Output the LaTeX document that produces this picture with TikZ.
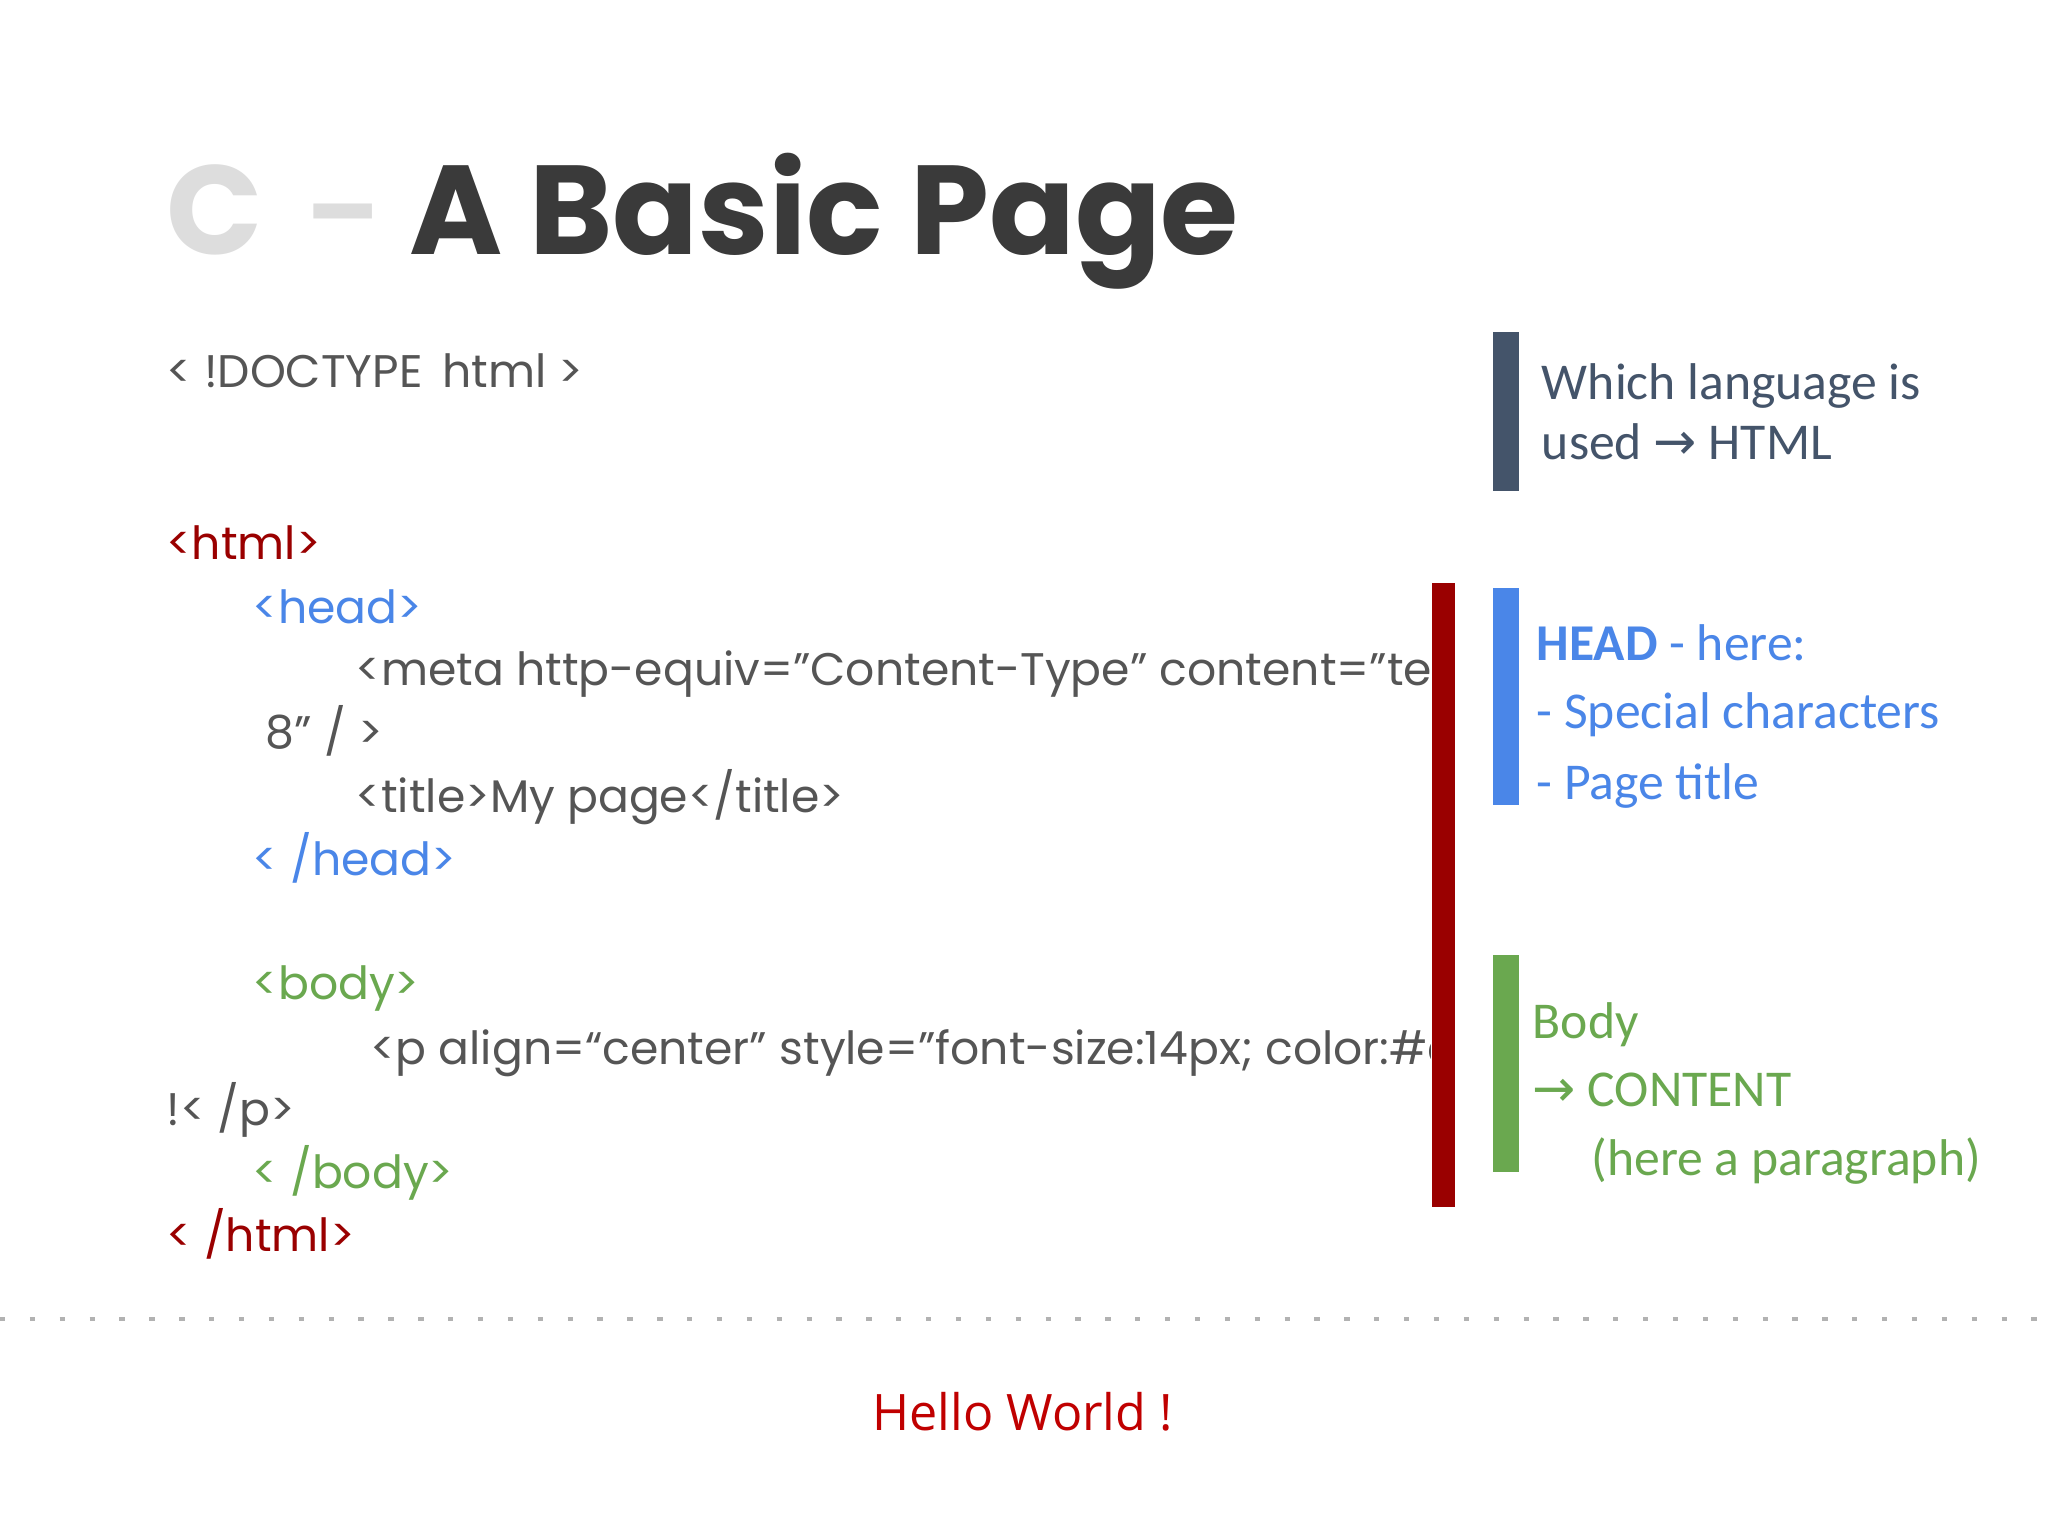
\documentclass[tikz,border=0pt]{standalone}
\usepackage{fontspec}
\setmainfont{Poppins}
\newfontfamily\sidefont{Carlito}
\newfontfamily\hellofont{Open Sans}
\newfontfamily\arrowfont{DejaVu Sans}
\definecolor{codegray}{HTML}{555555}
\definecolor{htmlred}{HTML}{9A0000}
\definecolor{headblue}{HTML}{4A86E8}
\definecolor{bodygreen}{HTML}{6AA84F}
\definecolor{slate}{HTML}{44546A}
\definecolor{titlegray}{HTML}{3A3A3A}
\definecolor{lightgray2}{HTML}{DDDDDD}
\definecolor{hellored}{HTML}{C00000}
\newcommand{\ar}{{\arrowfont\char"2192}}
\newcommand{\q}{{\char34}}
\begin{document}
\begin{tikzpicture}[x=0.01306cm,y=-0.01306cm,
    code/.style={anchor=base west,inner sep=0pt,font=\fontsize{13}{16}\selectfont,text=codegray},
    side/.style={anchor=base west,inner sep=0pt,font=\sidefont\fontsize{14.7}{17}\selectfont},
    head/.style={anchor=base west,inner sep=0pt,font=\bfseries\fontsize{36}{40}\selectfont}]
        \useasboundingbox[fill=white] (0,0) rectangle (1568,1176);

        % Titel
        \node[head,text=lightgray2] (tC) at (127,195) {C};
        \node[head,text=lightgray2,font=\bfseries\fontsize{30}{34}\selectfont] (tdash) at (234,190) {–};
        \node[head,text=titlegray] (title) at (313,195) {A Basic Page};

        % Code
        \node[code] (doctype) at (127,297) {< !DOCTYPE\, html >};
        \begin{scope}
            \clip (0,380) rectangle (1095,1000);
            \node[code,text=htmlred]   (html)  at (127,428) {<html>};
            \node[code,text=headblue]  (head)  at (193,477) {<head>};
            \node[code]                (meta)  at (272,525) {<meta http-equiv=\q{}Content-Type\q{} content=\q{}text/html; charset=UTF-};
            \node[code]                (meta2) at (203,573) {8\q{} / >};
            \node[code]                (ttl)   at (272,622) {<title>My page</title>};
            \node[code,text=headblue]  (ehead) at (193,670) {< /head>};
            \node[code,text=bodygreen] (body)  at (193,765) {<body>};
            \node[code]                (para)  at (283,815) {<p align=“center\q{} style=\q{}font-size:14px; color:\#c00000\q{}>Hello World};
            \node[code]                (para2) at (127,862) {!< /p>};
            \node[code,text=bodygreen] (ebody) at (193,910) {< /body>};
            \node[code,text=htmlred]   (ehtml) at (127,958) {< /html>};
        \end{scope}

        % Balken
        \fill[htmlred]   (1096,446) rectangle (1114,924);
        \fill[slate]     (1143,254) rectangle (1163,376);
        \fill[headblue]  (1143,450) rectangle (1163,616);
        \fill[bodygreen] (1143,731) rectangle (1163,897);

        % Erklaerungen
        \node[side,text=slate] (lang1) at (1180,306) {Which language is};
        \node[side,text=slate] (lang2) at (1180,352) {used \ar{} HTML};
        \node[side,text=headblue] (hd1) at (1176,506) {\textbf{HEAD} - here:};
        \node[side,text=headblue] (hd2) at (1176,558) {- Special characters};
        \node[side,text=headblue] (hd3) at (1176,612) {- Page title};
        \node[side,text=bodygreen] (bd1) at (1173,795) {Body};
        \node[side,text=bodygreen] (bd2) at (1173,847) {\ar{} CONTENT};
        \node[side,text=bodygreen] (bd3) at (1218,900) {(here a paragraph)};

        % Trennlinie
        \draw[gray!60,line width=1.2pt,dash pattern=on 1.5pt off 7pt] (0,1010) -- (1568,1010);

        % Ergebnis
        \node[anchor=base,inner sep=0pt,font=\hellofont\fontsize{14.3}{17}\selectfont,text=hellored] (hello) at (783,1095) {Hello World !};
\end{tikzpicture}
\end{document}
